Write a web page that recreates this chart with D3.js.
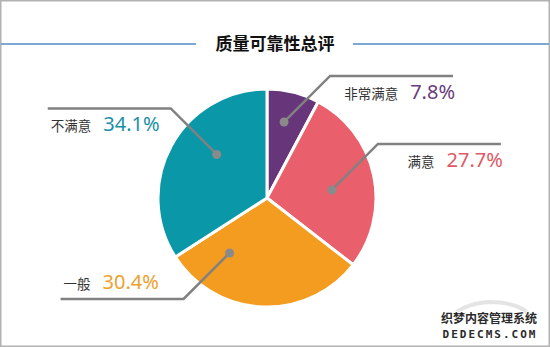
<!DOCTYPE html>
<html>
<head>
<meta charset="utf-8">
<script src="https://cdn.jsdelivr.net/npm/d3@7"></script>
<style>
  html, body { margin: 0; padding: 0; background: #fff; }
  svg { display: block; }
</style>
</head>
<body>
<svg id="chart" width="550" height="347"></svg>
<script>
// data
var title = "质量可靠性总评";
var categories = ["非常满意", "满意", "一般", "不满意"];
var values = [7.8, 27.7, 30.4, 34.1];

// look
var colors = ["#67367a", "#e95f6b", "#f39c1f", "#0a97a7"];
var valueColors = ["#6a3d7c", "#e05a66", "#efa02e", "#1990a6"];
// where the leader dot sits: fraction along the slice, fraction of radius
var dotSpots = [[0.45, 0.715], [0.55, 0.6], [0.79, 0.61], [0.6, 0.61]];

var svg = d3.select("#chart"),
    width = 550, height = 347,
    cx = 267, cy = 198, radius = 109,
    elbow = 46, tail = 123;

svg.append("rect")
    .attr("x", 0.75).attr("y", 0.75)
    .attr("width", width - 1.5).attr("height", height - 1.5)
    .attr("fill", "#fff")
    .attr("stroke", "#b2b2b2")
    .attr("stroke-width", 1.5);

// title with rules on both sides
svg.append("line")
    .attr("x1", 1).attr("x2", 196).attr("y1", 44).attr("y2", 44)
    .attr("stroke", "#7ba9d3").attr("stroke-width", 2);
svg.append("line")
    .attr("x1", 353).attr("x2", width - 1).attr("y1", 44).attr("y2", 44)
    .attr("stroke", "#7ba9d3").attr("stroke-width", 2);
svg.append("text")
    .attr("x", 275).attr("y", 50)
    .attr("text-anchor", "middle")
    .attr("font-family", "'Noto Sans CJK SC', sans-serif")
    .attr("font-weight", 700)
    .attr("font-size", 17)
    .attr("fill", "#111")
    .text(title);

var pie = d3.pie().sort(null).value(function(d) { return d; });
var arcs = pie(values);
var arc = d3.arc().innerRadius(0).outerRadius(radius);

var g = svg.append("g").attr("transform", "translate(" + cx + "," + cy + ")");

g.selectAll("path.slice")
    .data(arcs)
    .enter()
    .append("path")
    .attr("class", "slice")
    .attr("d", arc)
    .attr("fill", function(d, i) { return colors[i]; })
    .attr("stroke", "#fff")
    .attr("stroke-width", 3)
    .attr("stroke-linejoin", "round");

// leader lines + labels
arcs.forEach(function(d, i) {
    var a = d.startAngle + dotSpots[i][0] * (d.endAngle - d.startAngle),
        r = dotSpots[i][1] * radius,
        px = r * Math.sin(a),
        py = -r * Math.cos(a),
        sx = px > 0 ? 1 : -1,
        sy = py > 0 ? 1 : -1,
        ex = px + sx * elbow,
        ey = py + sy * elbow,
        tx = ex + sx * tail;

    g.append("polyline")
        .attr("points", [[px, py], [ex, ey], [tx, ey]].map(function(p) { return p.join(","); }).join(" "))
        .attr("fill", "none")
        .attr("stroke", "#818181")
        .attr("stroke-width", 2.5);

    g.append("circle")
        .attr("cx", px).attr("cy", py).attr("r", 4.5)
        .attr("fill", "#8a8a8a");

    var t = g.append("text")
        .attr("x", sx > 0 ? tx + 2 : tx + 3)
        .attr("y", sy < 0 ? ey + 23 : ey - 10)
        .attr("text-anchor", sx > 0 ? "end" : "start");
    t.append("tspan")
        .attr("font-family", "'Noto Sans CJK SC', sans-serif")
        .attr("font-size", 13.5)
        .attr("fill", "#333")
        .text(categories[i]);
    t.append("tspan")
        .attr("dx", 12)
        .attr("font-family", "'Noto Sans', 'Open Sans', sans-serif")
        .attr("font-size", 20)
        .attr("fill", valueColors[i])
        .text(values[i] + "%");
});

// watermark in the corner
var wm = svg.append("g").attr("transform", "translate(489,0)");
wm.append("path")
    .attr("d", "M-42,322 Q-30,304 0,302 Q30,302 42,316")
    .attr("fill", "none")
    .attr("stroke", "#e4e4e4")
    .attr("stroke-width", 4);
wm.append("text")
    .attr("x", 0).attr("y", 323)
    .attr("text-anchor", "middle")
    .attr("font-family", "'Noto Sans CJK SC', sans-serif")
    .attr("font-weight", 700)
    .attr("font-size", 12)
    .attr("fill", "#2a2a2a")
    .attr("stroke", "#fff").attr("stroke-width", 2).attr("paint-order", "stroke")
    .text("织梦内容管理系统");
wm.append("text")
    .attr("x", 1).attr("y", 338)
    .attr("text-anchor", "middle")
    .attr("font-family", "'DejaVu Sans Mono', monospace")
    .attr("font-weight", 700)
    .attr("font-size", 11)
    .attr("letter-spacing", 2)
    .attr("fill", "#2a2a2a")
    .attr("stroke", "#fff").attr("stroke-width", 2).attr("paint-order", "stroke")
    .text("DEDECMS.COM");
</script>
</body>
</html>
